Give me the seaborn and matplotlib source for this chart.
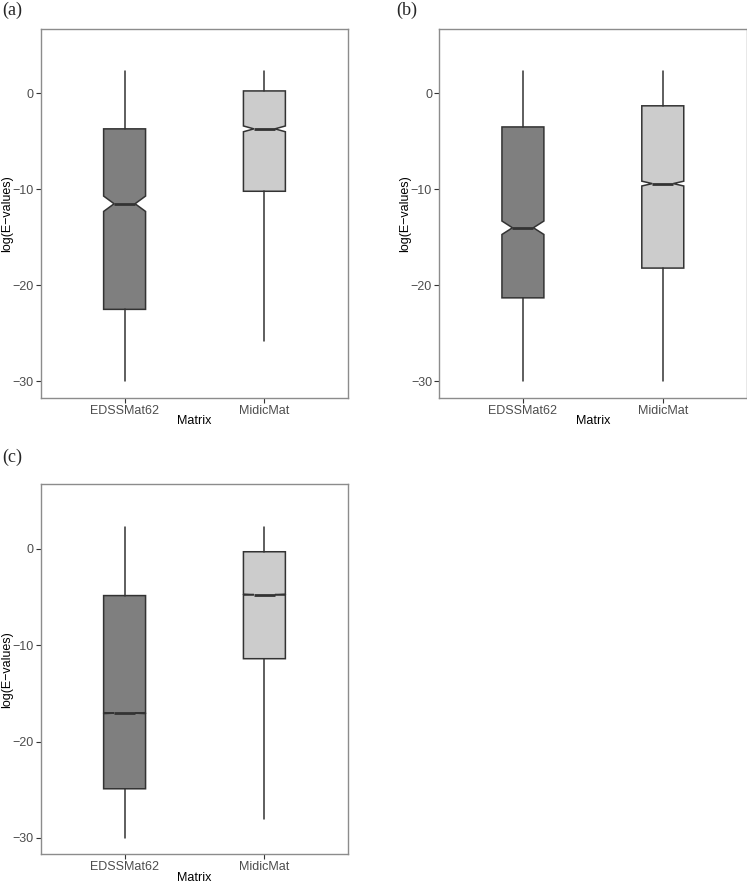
import matplotlib
matplotlib.use('Agg')
import matplotlib.pyplot as plt
import seaborn as sns

sns.set_style('white')
plt.rcParams['font.family'] = ['Liberation Sans', 'DejaVu Sans']

MATRICES = ['EDSSMat62', 'MidicMat']
BOX_COLORS = ['#7f7f7f', '#cccccc']
PANELS = ['(a)', '(b)', '(c)']

# per panel, per matrix: whisker low, q1, median, q3, whisker high, notch low, notch high
WHISLO = [[-30.0, -25.8], [-30.0, -30.0], [-30.0, -28.0]]
Q1     = [[-22.5, -10.2], [-21.3, -18.2], [-24.9, -11.4]]
MEDIAN = [[-11.5, -3.7],  [-14.0, -9.4],  [-17.05, -4.75]]
Q3     = [[-3.7, 0.25],   [-3.5, -1.3],   [-4.85, -0.3]]
WHISHI = [[2.3, 2.3],     [2.3, 2.3],     [2.3, 2.3]]
CILO   = [[-12.3, -4.0],  [-14.7, -9.65], [-17.1, -4.8]]
CIHI   = [[-10.7, -3.4],  [-13.3, -9.15], [-17.0, -4.7]]

YTICKS = [0, -10, -20, -30]

fig = plt.figure(figsize=(7.47, 8.83), dpi=100)
W, H = 747, 883
# axes rectangles in pixels: left, top, right, bottom
RECTS = [(40.7, 29, 348.3, 397.7), (439, 29, 746.7, 397.7), (40.7, 484.3, 348.3, 854.3)]
LABEL_POS = [(2, 2), (396, 2), (2, 449)]
YLAB_X = [13, 411, 13]

for p in range(3):
    l, t, r, b = RECTS[p]
    ax = fig.add_axes([l / W, 1 - b / H, (r - l) / W, (b - t) / H])
    stats = []
    for m in range(2):
        stats.append({'whislo': WHISLO[p][m], 'q1': Q1[p][m], 'med': MEDIAN[p][m],
                      'q3': Q3[p][m], 'whishi': WHISHI[p][m],
                      'cilo': CILO[p][m], 'cihi': CIHI[p][m], 'fliers': []})
    bp = ax.bxp(stats, positions=[1, 2], widths=0.3, capwidths=0.15,
                shownotches=True, showcaps=False, showfliers=False, patch_artist=True,
                boxprops=dict(edgecolor='#333333', linewidth=1.1),
                whiskerprops=dict(color='#333333', linewidth=1.1),
                medianprops=dict(color='#333333', linewidth=2.0))
    for patch, c in zip(bp['boxes'], BOX_COLORS):
        patch.set_facecolor(c)
    ax.set_xlim(0.4, 2.6)
    ax.set_ylim(-31.7, 6.7)
    ax.set_yticks(YTICKS)
    ax.set_yticklabels(['0', '\u221210', '\u221220', '\u221230'])
    ax.set_xticks([1, 2])
    ax.set_xticklabels(MATRICES)
    ax.tick_params(axis='both', which='both', length=3.5, width=0.8, color='#333333',
                   labelcolor='#4d4d4d', labelsize=9, pad=1.5, left=True, bottom=True)
    for s in ax.spines.values():
        s.set_color('#8c8c8c')
        s.set_linewidth(1.0)
    ax.grid(False)
    ax.set_xlabel('Matrix', fontsize=9, color='black', labelpad=-1)
    ax.set_ylabel('log(E\u2212values)', fontsize=9, color='black')
    ax.yaxis.set_label_coords(-(l - YLAB_X[p]) / (r - l), 0.5)
    fig.text(LABEL_POS[p][0] / W, 1 - LABEL_POS[p][1] / H, PANELS[p],
             family='Liberation Serif', fontsize=13, va='top', ha='left')

fig.savefig('out.png', dpi=100)
